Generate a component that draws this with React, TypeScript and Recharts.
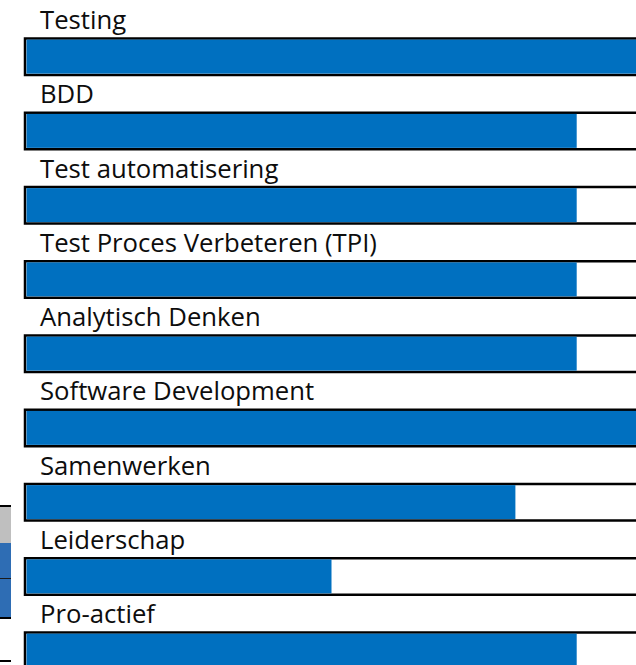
import { Bar, BarChart, LabelList, XAxis, YAxis } from 'recharts';

const skills = [
  'Testing',
  'BDD',
  'Test automatisering',
  'Test Proces Verbeteren (TPI)',
  'Analytisch Denken',
  'Software Development',
  'Samenwerken',
  'Leiderschap',
  'Pro-actief',
];
const levels = [10, 9, 9, 9, 9, 10, 8, 5, 9];
const maxLevel = 10;

const data = skills.map((skill, i) => ({ skill, level: levels[i] }));

const BORDER = 2.5;

// blue fill sits inside the black track outline
function SkillBar(props: any) {
  const { x, y, width, height } = props;
  if (!width) return null;
  return (
    <rect
      x={x + 1.5}
      y={y + BORDER / 2}
      width={Math.max(0, width - 1.5)}
      height={height - BORDER}
      fill="#0070C0"
    />
  );
}

function SkillLabel(props: any) {
  const { y, value } = props;
  return (
    <text
      x={40}
      y={y - 9.25}
      fontFamily="'Open Sans', sans-serif"
      fontSize={25.7}
      fill="#0d0d0d"
      style={{ fontVariantLigatures: 'none' }}
    >
      {value}
    </text>
  );
}

export default function App() {
  return (
    <div style={{ position: 'absolute', left: 0, top: 0, width: 636, height: 665, overflow: 'hidden', background: '#fff' }}>
      {/* bits of a neighbouring table cut off at the left edge */}
      <div style={{ position: 'absolute', left: 0, top: 505, width: 11, height: 2, background: '#000' }} />
      <div style={{ position: 'absolute', left: 0, top: 507, width: 11, height: 36, background: '#BFBFBF' }} />
      <div style={{ position: 'absolute', left: 0, top: 543, width: 11, height: 35, background: '#2E6DB4' }} />
      <div style={{ position: 'absolute', left: 0, top: 578, width: 11, height: 1, background: '#1a1a1a' }} />
      <div style={{ position: 'absolute', left: 0, top: 579, width: 11, height: 38, background: '#2E6DB4' }} />
      <div style={{ position: 'absolute', left: 0, top: 617, width: 11, height: 2, background: '#000' }} />
      <div style={{ position: 'absolute', left: 0, top: 660, width: 11, height: 2, background: '#000' }} />

      <div style={{ position: 'absolute', left: 0, top: 0 }}>
        <BarChart
          width={658}
          height={708}
          data={data}
          layout="vertical"
          margin={{ top: 19.375, right: 20, bottom: 20.375, left: 25 }}
        >
          <XAxis type="number" domain={[0, maxLevel]} hide />
          <YAxis type="category" dataKey="skill" hide />
          <Bar
            dataKey="level"
            barSize={36.5}
            isAnimationActive={false}
            background={{ fill: '#fff', stroke: '#000', strokeWidth: BORDER }}
            shape={SkillBar}
          >
            <LabelList dataKey="skill" content={SkillLabel} />
          </Bar>
        </BarChart>
      </div>
    </div>
  );
}
